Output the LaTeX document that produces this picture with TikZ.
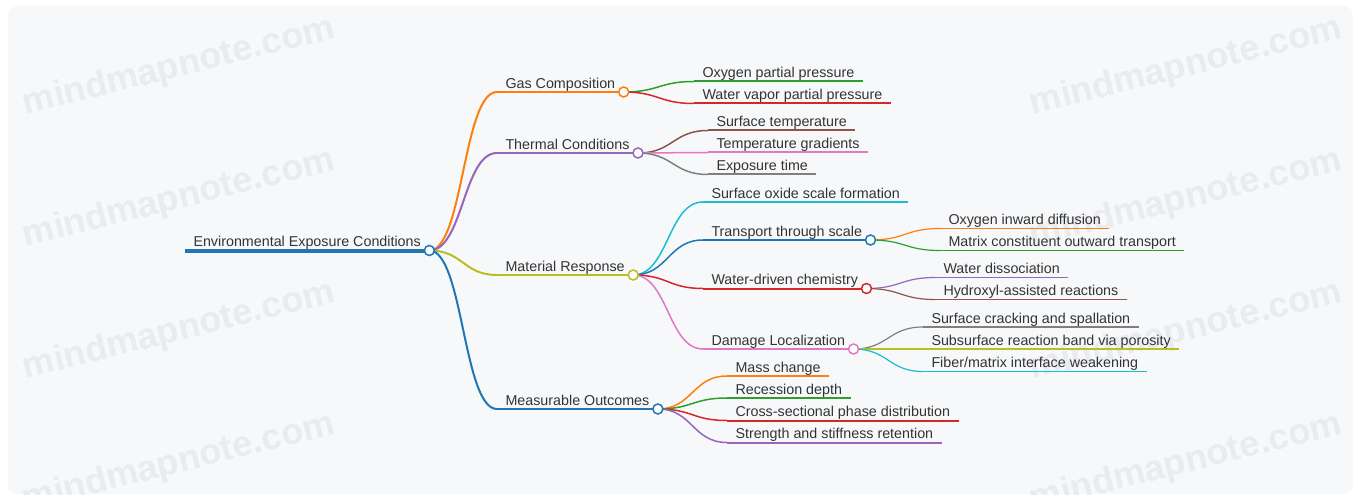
\documentclass[tikz,border=0pt]{standalone}
\usepackage{fontspec}
\setmainfont{Liberation Sans}
\usetikzlibrary{calc}
\definecolor{cblue}{HTML}{1F77B4}
\definecolor{corange}{HTML}{FF7F0E}
\definecolor{cgreen}{HTML}{2CA02C}
\definecolor{cred}{HTML}{D62728}
\definecolor{cpurple}{HTML}{9467BD}
\definecolor{cbrown}{HTML}{8C564B}
\definecolor{cpink}{HTML}{E377C2}
\definecolor{cgray}{HTML}{7F7F7F}
\definecolor{colive}{HTML}{BCBD22}
\definecolor{ccyan}{HTML}{17BECF}
\definecolor{bgc}{HTML}{F7F8FA}
\definecolor{wmc}{HTML}{EAEBEE}
\definecolor{txtc}{HTML}{333333}
\tikzset{
  lbl/.style={font=\fontsize{14.3}{17}\selectfont, text=txtc, inner xsep=8.5pt, inner ysep=0pt, outer sep=0pt, anchor=base west},
  wm/.style={font=\fontsize{36}{40}\selectfont\bfseries, text=wmc, rotate=14},
  dot/.style={circle, draw=#1, fill=white, line width=1.5pt, minimum size=10pt, inner sep=0pt},
}
% name, x, y(line), colour, line width, text
\newcommand\mmn[6]{%
  \node[lbl] (#1) at (#2,#3-3.8) {#6};
  \coordinate (#1-s) at ([yshift=-3.8pt]#1.base west);
  \coordinate (#1-e) at ([yshift=-3.8pt]#1.base east);
  \draw[#4, line width=#5] (#1-s) -- (#1-e);}
% from, to, colour, line width
\newcommand\mml[4]{%
  \draw[#3, line width=#4] let \p1=(#1-e), \p2=(#2-s) in
    (\p1) .. controls ({0.5*\x1+0.5*\x2},\y1) and ({0.5*\x1+0.5*\x2},\y2) .. (\p2);}
\begin{document}
\begin{tikzpicture}[x=1pt, y=-1pt]
\useasboundingbox (0,0) rectangle (1361,500);
\fill[white] (0,0) rectangle (1361,500);
\fill[bgc, rounded corners=10pt] (8,6) rectangle (1353,494);
% watermarks
\begin{scope}
\clip[rounded corners=10pt] (8,6) rectangle (1353,494);
\foreach \yy in {67,199,331,463} {
  \node[wm] (wl\yy) at (179,\yy) {mindmapnote.com};
  \node[wm] (wr\yy) at (1186,\yy) {mindmapnote.com};
}
\end{scope}
% nodes
\mmn{root}{185}{250.5}{cblue}{4pt}{Environmental Exposure Conditions}
\mmn{gas}{497}{92}{corange}{2.5pt}{Gas Composition}
\mmn{thermal}{497}{153}{cpurple}{2.5pt}{Thermal Conditions}
\mmn{material}{497}{275}{colive}{2.5pt}{Material Response}
\mmn{measure}{497}{409}{cblue}{2.5pt}{Measurable Outcomes}
\mmn{oxy}{694}{81.5}{cgreen}{2pt}{Oxygen partial pressure}
\mmn{vapor}{694}{103.5}{cred}{2pt}{Water vapor partial pressure}
\mmn{stemp}{708}{130.5}{cbrown}{2pt}{Surface temperature}
\mmn{tgrad}{708}{152.5}{cpink}{2pt}{Temperature gradients}
\mmn{etime}{708}{174.5}{cgray}{2pt}{Exposure time}
\mmn{oxide}{703}{202}{ccyan}{2pt}{Surface oxide scale formation}
\mmn{transport}{703}{240}{cblue}{2pt}{Transport through scale}
\mmn{wchem}{703}{288.5}{cred}{2pt}{Water-driven chemistry}
\mmn{damage}{703}{349}{cpink}{2pt}{Damage Localization}
\mmn{oinward}{940}{228.5}{corange}{1.5pt}{Oxygen inward diffusion}
\mmn{matrix}{940}{250.5}{cgreen}{1.5pt}{Matrix constituent outward transport}
\mmn{wdiss}{935}{277.5}{cpurple}{1.5pt}{Water dissociation}
\mmn{hydroxyl}{935}{299.5}{cbrown}{1.5pt}{Hydroxyl-assisted reactions}
\mmn{crack}{923}{327}{cgray}{1.5pt}{Surface cracking and spallation}
\mmn{subsurf}{923}{349}{colive}{1.5pt}{Subsurface reaction band via porosity}
\mmn{fiber}{923}{371.5}{ccyan}{1.5pt}{Fiber/matrix interface weakening}
\mmn{mass}{727}{376}{corange}{2pt}{Mass change}
\mmn{recess}{727}{398}{cgreen}{2pt}{Recession depth}
\mmn{cross}{727}{420.5}{cred}{2pt}{Cross-sectional phase distribution}
\mmn{strength}{727}{442.5}{cpurple}{2pt}{Strength and stiffness retention}
% links
\mml{root}{gas}{corange}{2pt}
\mml{root}{thermal}{cpurple}{2pt}
\mml{root}{material}{colive}{2pt}
\mml{root}{measure}{cblue}{2pt}
\mml{gas}{oxy}{cgreen}{1.5pt}
\mml{gas}{vapor}{cred}{1.5pt}
\mml{thermal}{stemp}{cbrown}{1.5pt}
\mml{thermal}{tgrad}{cpink}{1.5pt}
\mml{thermal}{etime}{cgray}{1.5pt}
\mml{material}{oxide}{ccyan}{1.5pt}
\mml{material}{transport}{cblue}{1.5pt}
\mml{material}{wchem}{cred}{1.5pt}
\mml{material}{damage}{cpink}{1.5pt}
\mml{transport}{oinward}{corange}{1.2pt}
\mml{transport}{matrix}{cgreen}{1.2pt}
\mml{wchem}{wdiss}{cpurple}{1.2pt}
\mml{wchem}{hydroxyl}{cbrown}{1.2pt}
\mml{damage}{crack}{cgray}{1.2pt}
\mml{damage}{subsurf}{colive}{1.2pt}
\mml{damage}{fiber}{ccyan}{1.2pt}
\mml{measure}{mass}{corange}{1.5pt}
\mml{measure}{recess}{cgreen}{1.5pt}
\mml{measure}{cross}{cred}{1.5pt}
\mml{measure}{strength}{cpurple}{1.5pt}
% circles
\node[dot=cblue] (root-c) at (root-e) {};
\node[dot=corange] (gas-c) at (gas-e) {};
\node[dot=cpurple] (thermal-c) at (thermal-e) {};
\node[dot=colive] (material-c) at (material-e) {};
\node[dot=cblue] (measure-c) at (measure-e) {};
\node[dot=cblue] (transport-c) at (transport-e) {};
\node[dot=cred] (wchem-c) at (wchem-e) {};
\node[dot=cpink] (damage-c) at (damage-e) {};
\end{tikzpicture}
\end{document}
